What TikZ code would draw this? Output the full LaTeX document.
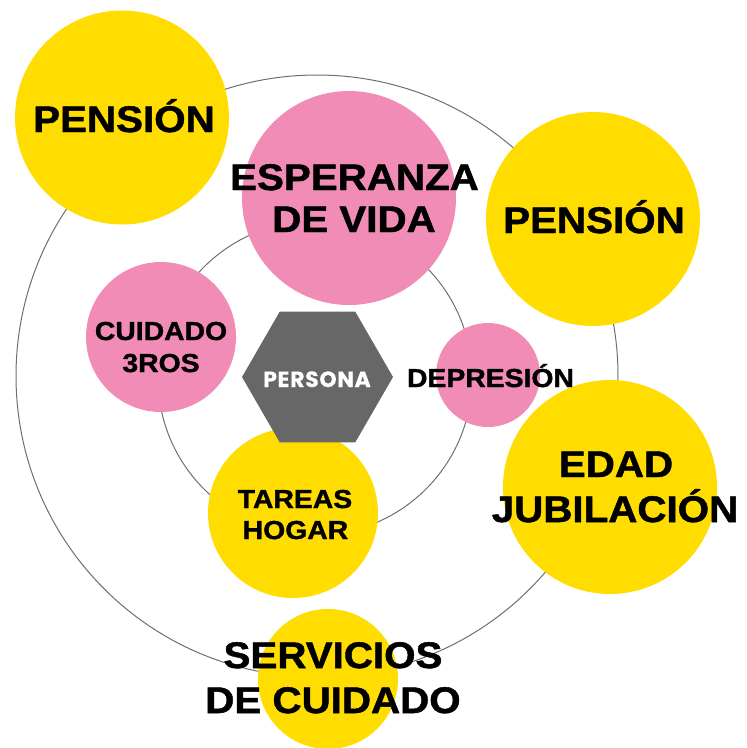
\documentclass[tikz,border=0pt]{standalone}
\usepackage{fontspec}
\usetikzlibrary{shapes.geometric}
\newfontfamily\labfont[FakeStretch=1.09,FakeBold=1.3]{Liberation Sans Bold}
\newfontfamily\perfont[FakeBold=0.4,LetterSpace=3]{Poppins Bold}
\definecolor{ylw}{HTML}{FFDD00}
\definecolor{pnk}{HTML}{F08CB6}
\definecolor{hexgray}{HTML}{676767}
\definecolor{ringgray}{HTML}{6E6E6E}
\tikzset{
  ring/.style={circle,draw=ringgray,line width=1pt,inner sep=0pt,fill=none},
  ybub/.style={circle,fill=ylw,inner sep=0pt},
  pbub/.style={circle,fill=pnk,inner sep=0pt},
  bigtxt/.style={anchor=base,inner sep=0pt,font=\labfont\fontsize{37}{40}\selectfont,text=black},
  midtxt/.style={anchor=base,inner sep=0pt,font=\labfont\fontsize{26}{30}\selectfont,text=black},
}
\begin{document}
\begin{tikzpicture}[x=1pt,y=-1pt]
\useasboundingbox (0,0) rectangle (747,748);
% rings
\node[ring,minimum size=602pt] (outer) at (317,376) {};
\node[ring,minimum size=314pt] (inner) at (315,378) {};
% bubbles
\node[ybub,minimum size=214pt] (pen1) at (122,117.5) {};
\node[pbub,minimum size=214pt] (esp) at (349,198) {};
\node[ybub,minimum size=214pt] (pen2) at (593,219) {};
\node[pbub,minimum size=150pt] (cui) at (161,337) {};
\node[pbub,minimum size=104pt] (dep) at (488,375) {};
\node[ybub,minimum size=214pt] (eda) at (610,487) {};
\node[ybub,minimum size=170pt] (tar) at (293,513) {};
\node[ybub,minimum size=140pt] (ser) at (328,679) {};
\node[regular polygon,regular polygon sides=6,fill=hexgray,inner sep=0pt,minimum size=151pt] (hex) at (317.5,377) {};
% texts
\node[bigtxt] (tpen1) at (124,132) {PENSIÓN};
\node[bigtxt] (tesp1) at (354.5,190) {ESPERANZA};
\node[bigtxt] (tesp2) at (354,232) {DE VIDA};
\node[bigtxt] (tpen2) at (594,233) {PENSIÓN};
\node[midtxt] (tcui1) at (161,340) {CUIDADO};
\node[midtxt] (tcui2) at (161,372) {3ROS};
\node[anchor=base,inner sep=0pt,font=\perfont\fontsize{22}{24}\selectfont,text=white] (tper) at (317,387) {PERSONA};
\node[midtxt] (tdep) at (490.5,387) {DEPRESIÓN};
\node[bigtxt] (teda1) at (616,477) {EDAD};
\node[bigtxt] (teda2) at (615,522) {JUBILACIÓN};
\node[midtxt] (ttar1) at (295,508) {TAREAS};
\node[midtxt] (ttar2) at (295.5,539) {HOGAR};
\node[bigtxt] (tser1) at (333,668) {SERVICIOS};
\node[bigtxt] (tser2) at (333,713) {DE CUIDADO};
\end{tikzpicture}
\end{document}
